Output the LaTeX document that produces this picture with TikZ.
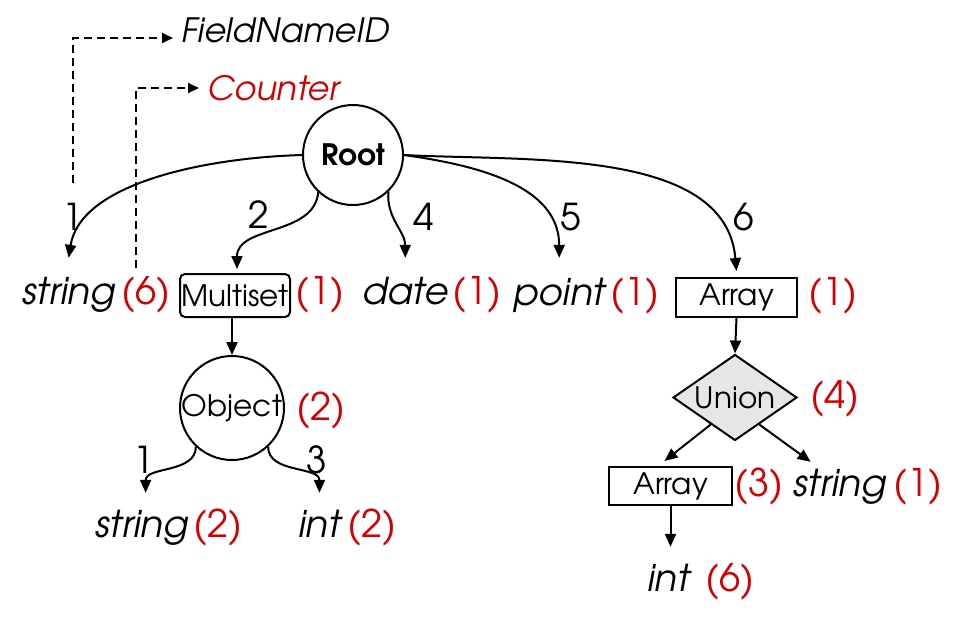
\documentclass[tikz,border=0pt]{standalone}
\usepackage{fontspec}
\setmainfont{TeX Gyre Adventor}
\usetikzlibrary{arrows.meta,shapes.geometric,calc}
\definecolor{cred}{RGB}{212,0,0}
\definecolor{ugray}{RGB}{230,230,230}
\tikzset{
  lbl/.style={inner sep=0pt, font=\fontsize{37}{44}\selectfont\itshape, anchor=base west, text height=25pt, text depth=8pt},
  cnt/.style={inner sep=0pt, font=\fontsize{38}{44}\selectfont, text=cred, anchor=base west},
  elbl/.style={inner sep=0pt, font=\fontsize{37}{44}\selectfont, anchor=base, text height=25pt, text depth=0pt},
  toplbl/.style={inner sep=0pt, font=\fontsize{33.5}{40}\selectfont\itshape, anchor=base west},
  boxfont/.style={font=\fontsize{29.5}{35}\selectfont},
  rbox/.style={draw, line width=2pt, inner sep=0pt, boxfont},
  circ/.style={circle, draw, line width=2pt, inner sep=0pt, boxfont},
  conn/.style={line width=2pt, -{Triangle[length=13pt,width=11pt]}},
  dconn/.style={line width=1.8pt, dash pattern=on 8pt off 5pt, -{Triangle[length=11pt,width=10pt]}},
}
\begin{document}
\begin{tikzpicture}[x=1pt,y=1pt]
\useasboundingbox (0,0) rectangle (962,-625);
% top labels
\node[toplbl] (fnid) at (181,-42) {FieldNameID};
\node[toplbl, text=cred] (ctr) at (207,-100) {Counter};
% root
\node[circ, minimum size=100pt, font=\fontsize{29.5}{35}\selectfont\bfseries] (root) at (353,-155) {Root};
% first level
\node[lbl] (s1) at (22,-304) {string};
\node[cnt] (c1) at (121,-304) {(6)};
\node[rbox, rounded corners=5pt, minimum width=110pt, minimum height=43pt] (ms) at (235,-295.5) {Multiset};
\node[cnt] (c2) at (295,-304) {(1)};
\node[lbl] (d) at (362,-304) {date};
\node[cnt] (c3) at (452,-304) {(1)};
\node[lbl] (p) at (513,-305) {point};
\node[cnt] (c4) at (610,-305) {(1)};
\node[rbox, minimum width=121pt, minimum height=39pt] (a1) at (736.5,-297.5) {Array};
\node[cnt] (c5) at (808,-305) {(1)};
% edge labels
\node[elbl] (l1) at (73,-230) {1};
\node[elbl] (l2) at (259,-228) {2};
\node[elbl] (l4) at (424,-230) {4};
\node[elbl] (l5) at (571,-230) {5};
\node[elbl] (l6) at (743.5,-230) {6};
% object subtree
\node[circ, minimum size=104pt] (obj) at (232,-408) {Object};
\node[cnt] (c6) at (296,-420) {(2)};
\node[elbl] (l7) at (144,-473) {1};
\node[elbl] (l8) at (317,-473) {3};
\node[lbl] (s2) at (95,-537) {string};
\node[cnt] (c7) at (193,-537) {(2)};
\node[lbl] (i1) at (298,-537) {int};
\node[cnt] (c8) at (347,-537) {(2)};
% union subtree
\node[diamond, draw, fill=ugray, line width=2pt, inner sep=0pt, aspect=1.44, minimum width=124pt, minimum height=86pt, boxfont] (u) at (735,-397.5) {Union};
\node[cnt] (c9) at (810,-408) {(4)};
\node[rbox, minimum width=123pt, minimum height=38pt] (a2) at (670.5,-486) {Array};
\node[cnt] (c10) at (734,-496) {(3)};
\node[lbl] (s3) at (793,-496) {string};
\node[cnt] (c11) at (893,-496) {(1)};
\node[lbl] (i2) at (647,-591) {int};
\node[cnt] (c12) at (705,-591) {(6)};
% connectors from root
\draw[conn] (root.west) .. controls (200,-158) and (80,-185) .. ([yshift=21pt]s1.north);
\draw[conn] (root.-133) to[out=-95,in=90] ([xshift=2pt,yshift=4pt]ms.north);
\draw[conn] (root.-46) to[out=-95,in=90] ([yshift=21pt]d.north);
\draw[conn] (root.east) to[out=-8,in=90] ([yshift=22pt]p.north);
\draw[conn] (root.east) to[out=-3,in=95,looseness=0.9] ([yshift=6pt]a1.north);
% object
\draw[conn] (ms.south -| obj.north) -- (obj.north);
\draw[conn] (obj.-133) to[out=-90,in=90] ([xshift=4pt,yshift=19pt]s2.north);
\draw[conn] (obj.-47) to[out=-90,in=90] ([yshift=19pt]i1.north);
% union
\draw[conn] (a1.south) -- (u.north);
\draw[conn] (u.-132) -- ([xshift=-6pt,yshift=5pt]a2.north);
\draw[conn] (u.-48) -- ([xshift=-29pt,yshift=9pt]s3.north);
\draw[conn] (a2.south) -- ([yshift=19pt]a2.south |- i2.north);
% dashed
\draw[dconn] ([yshift=22pt]l1.north) |- ([xshift=-8pt,yshift=4pt]fnid.base west);
\draw[dconn] ([xshift=15pt,yshift=36pt]c1.base west) |- ([xshift=-8pt,yshift=12pt]ctr.base west);
\end{tikzpicture}
\end{document}
